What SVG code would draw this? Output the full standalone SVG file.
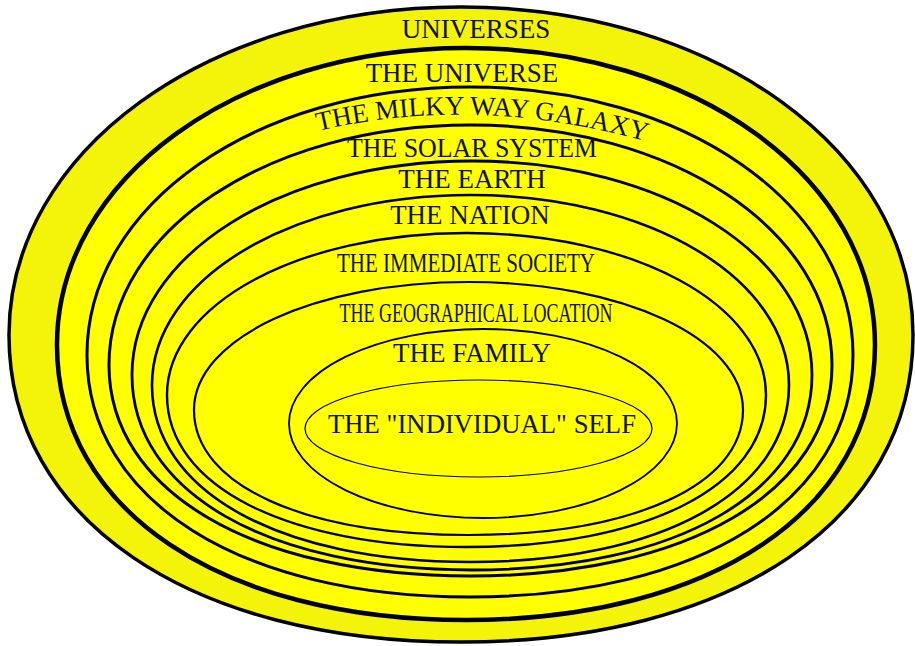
<svg xmlns="http://www.w3.org/2000/svg" width="915" height="646" viewBox="0 0 915 646">
<style>
.ring{fill:#ffff00;stroke:#000;}
.lbl{font-family:"Liberation Serif","Times New Roman",serif;font-size:27px;fill:#111;text-anchor:middle;}
</style>
<defs>
<path id="galaxyArc" d="M318,131 Q482,92 662,146" fill="none"/>
</defs>
<rect width="915" height="646" fill="#fff"/>
<g id="universes">
<path class="ring" style="fill:#f4f40a" stroke-width="3.5" d="M9,335 C9,151.3 207.9,7 461,7 C714.1,7 913,151.3 913,335 C913,519.2 732.2,642 461,642 C189.8,642 9,519.2 9,335Z"/>
<text class="lbl" x="476" y="38">UNIVERSES</text>
</g>
<g id="the-universe">
<path class="ring" stroke-width="4.5" d="M57,345 C57,178.7 237,48 466,48 C695,48 875,178.7 875,345 C875,510 711.4,620 466,620 C220.6,620 57,510 57,345Z"/>
<text class="lbl" x="462" y="82">THE UNIVERSE</text>
</g>
<g id="milky-way">
<path class="ring" stroke-width="3" d="M87,355 C87,204.9 255.5,87 470,87 C684.5,87 853,204.9 853,355 C853,500.2 699.8,597 470,597 C240.2,597 87,500.2 87,355Z"/>
<text class="lbl" style="text-anchor:start"><textPath href="#galaxyArc">THE MILKY WAY GALAXY</textPath></text>
</g>
<g id="solar-system">
<path class="ring" stroke-width="3" d="M109,365 C109,230.6 268.1,125 470.5,125 C672.9,125 832,230.6 832,365 C832,491.6 687.4,576 470.5,576 C253.6,576 109,491.6 109,365Z"/>
<text class="lbl" x="472" y="157" textLength="250" lengthAdjust="spacingAndGlyphs">THE SOLAR SYSTEM</text>
</g>
<g id="earth">
<path class="ring" stroke-width="2.8" d="M132,375 C132,255.2 281.6,161 472,161 C662.4,161 812,255.2 812,375 C812,492 676,570 472,570 C268,570 132,492 132,375Z"/>
<text class="lbl" x="472" y="188">THE EARTH</text>
</g>
<g id="nation">
<path class="ring" stroke-width="2.6" d="M152,385 C152,278.6 292.1,195 470.5,195 C648.9,195 789,278.6 789,385 C789,491.2 661.6,562 470.5,562 C279.4,562 152,491.2 152,385Z"/>
<text class="lbl" x="470" y="224">THE NATION</text>
</g>
<g id="immediate-society">
<path class="ring" stroke-width="2.4" d="M167,395 C167,304.3 298.8,233 466.5,233 C634.2,233 766,304.3 766,395 C766,486.2 646.2,547 466.5,547 C286.8,547 167,486.2 167,395Z"/>
<text class="lbl" x="466" y="272" textLength="258" lengthAdjust="spacingAndGlyphs">THE IMMEDIATE SOCIETY</text>
</g>
<g id="geographical-location">
<path class="ring" stroke-width="2.2" d="M194,410 C194,338.3 314.8,282 468.5,282 C622.2,282 743,338.3 743,410 C743,485 633.2,535 468.5,535 C303.8,535 194,485 194,410Z"/>
<text class="lbl" x="476" y="322" textLength="273" lengthAdjust="spacingAndGlyphs">THE GEOGRAPHICAL LOCATION</text>
</g>
<g id="family">
<ellipse class="ring" stroke-width="1.8" cx="483" cy="423.5" rx="194" ry="94.5"/>
<text class="lbl" x="472" y="362">THE FAMILY</text>
</g>
<g id="individual-self">
<ellipse class="ring" stroke-width="1.2" cx="478.5" cy="428.5" rx="173.5" ry="48.5"/>
<text class="lbl" x="482" y="433" textLength="308" lengthAdjust="spacingAndGlyphs">THE "INDIVIDUAL" SELF</text>
</g>
</svg>
